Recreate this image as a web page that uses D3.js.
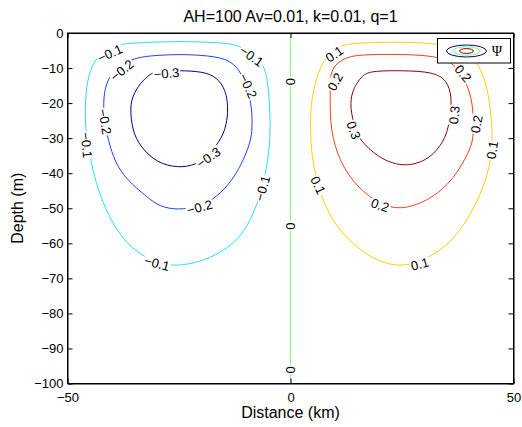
<!DOCTYPE html>
<html><head><meta charset="utf-8">
<script src="https://cdn.jsdelivr.net/npm/d3@7"></script>
<style>
body{margin:0;background:#fff;}
text{font-family:"Liberation Sans",Arial,Helvetica,sans-serif;fill:#000;}
</style>
</head><body>
<svg id="chart" width="522" height="427"></svg>
<script>
// ---------- DATA ----------
const titleText = "AH=100 Av=0.01, k=0.01, q=1";
const xLabelText = "Distance (km)";
const yLabelText = "Depth (m)";
const xTicks = [-50, 0, 50];
const yTicks = [0, -10, -20, -30, -40, -50, -60, -70, -80, -90, -100];
const levels = [-0.3, -0.2, -0.1, 0, 0.1, 0.2, 0.3];

// contour lines [distance km, depth m]
const psiNeg01 = [[-38.9,-3.1],[-31.5,-2.6],[-24.8,-2.4],[-18.0,-2.6],[-12.2,-3.1],[-9.1,-5.4],[-6.4,-8.3],[-5.3,-12.0],[-4.8,-18.3],[-4.4,-27.7],[-5.1,-37.1],[-6.4,-44.8],[-8.0,-50.5],[-9.9,-55.6],[-12.4,-59.6],[-15.8,-62.8],[-20.3,-65.3],[-25.2,-66.5],[-29.3,-65.9],[-33.7,-63.3],[-37.4,-59.1],[-40.3,-53.4],[-42.6,-46.8],[-44.4,-39.1],[-45.6,-30.5],[-46.1,-24.8],[-45.9,-16.3],[-45.0,-10.6],[-43.4,-7.1],[-41.6,-4.9]];
const psiNeg02 = [[-36.4,-8.0],[-33.7,-6.8],[-29.3,-6.3],[-24.8,-6.1],[-20.3,-6.3],[-14.2,-7.1],[-11.3,-10.6],[-9.8,-15.4],[-8.6,-21.1],[-8.6,-27.7],[-8.9,-30.5],[-10.2,-35.4],[-12.9,-41.9],[-16.5,-46.8],[-20.3,-49.6],[-25.2,-50.5],[-29.3,-49.6],[-32.2,-46.8],[-36.7,-41.9],[-39.3,-37.1],[-40.9,-30.5],[-41.8,-24.8],[-42.0,-18.3],[-41.1,-13.4],[-39.3,-10.6],[-38.2,-9.1]];
const psiNeg03 = [[-29.9,-10.8],[-24.8,-10.7],[-19.6,-11.0],[-16.5,-12.6],[-14.5,-16.3],[-14.0,-21.1],[-14.2,-24.8],[-15.1,-29.7],[-18.7,-35.4],[-21.4,-37.7],[-25.2,-38.5],[-29.9,-37.1],[-33.7,-32.5],[-35.5,-27.7],[-36.0,-21.1],[-35.3,-17.7],[-33.7,-14.3],[-31.5,-11.7]];
const psiZero = [[0,0],[0,-100]];
const psiPos01 = [[6.6,-9.6],[8.2,-6.8],[10.2,-4.0],[13.3,-3.0],[20.1,-2.6],[26.8,-2.6],[33.5,-3.1],[38.7,-4.9],[42.5,-8.6],[44.7,-18.3],[45.4,-30.5],[44.9,-36.4],[43.4,-43.9],[39.8,-53.4],[35.1,-61.1],[29.0,-65.3],[25.2,-66.5],[21.2,-65.9],[16.3,-62.8],[10.6,-56.2],[7.4,-48.5],[5.9,-42.4],[4.8,-35.4],[4.4,-27.7],[4.6,-18.3]];
const psiPos02 = [[8.9,-11.4],[10.0,-9.1],[12.2,-7.1],[14.9,-6.3],[20.1,-6.1],[24.6,-6.1],[29.0,-6.3],[35.1,-7.1],[38.5,-11.4],[40.7,-18.3],[41.1,-25.7],[40.9,-30.5],[40.2,-33.5],[36.6,-41.9],[31.3,-47.6],[25.2,-50.5],[20.1,-49.1],[14.9,-43.9],[11.1,-37.1],[8.9,-27.7],[8.9,-18.3]];
const psiPos03 = [[17.8,-10.8],[25.2,-10.7],[31.9,-11.1],[35.1,-13.4],[36.2,-18.3],[35.8,-23.4],[35.1,-29.7],[31.3,-36.2],[25.2,-38.5],[19.4,-35.4],[15.6,-30.5],[14.5,-27.7],[13.3,-21.1],[13.8,-16.8],[14.9,-14.3],[16.0,-12.3]];

// contour label anchors: [distance, depth, level, angle]
const contourLabels = [
  [-40.5,-5.8,-0.1,-25],[-8.7,-6.6,-0.1,35],[-37.8,-10.6,-0.2,-40],[-9.5,-15.1,-0.2,65],
  [-27.8,-11.5,-0.3,-5],[-41.6,-25.3,-0.2,80],[-45.7,-32.0,-0.1,85],[-18.4,-35.5,-0.3,-35],
  [-6.3,-44.3,-0.1,-75],[-20.4,-49.7,-0.2,-15],[-29.9,-65.7,-0.1,15],
  [0,-13.9,0,-90],[0,-55.1,0,-90],[0,-96.1,0,-90],
  [9.8,-6.0,0.1,-35],[10.0,-13.9,0.2,-60],[38.7,-11.5,0.2,50],[36.7,-23.4,0.3,-85],
  [14.2,-27.7,0.3,70],[41.7,-26.0,0.2,-80],[45.2,-33.4,0.1,-80],[6.2,-43.4,0.1,65],
  [20.1,-49.1,0.2,20],[29.0,-65.9,0.1,-15]
];

// ---------- STYLE / LAYOUT ----------
const levelColor = {"-0.3":"#00008f","-0.2":"#1f3fff","-0.1":"#22ddff","0":"#80ff80","0.1":"#ffcc00","0.2":"#ff3a10","0.3":"#8f0000"};
const contours = [
  {level:-0.1, pts:psiNeg01, closed:true},{level:-0.2, pts:psiNeg02, closed:true},{level:-0.3, pts:psiNeg03, closed:true},
  {level:0, pts:psiZero, closed:false},
  {level:0.1, pts:psiPos01, closed:true},{level:0.2, pts:psiPos02, closed:true},{level:0.3, pts:psiPos03, closed:true}
];

const svg = d3.select("#chart");
const L=67.5, R=513.5, T=33, B=383.5;
const x = d3.scaleLinear().domain([-50,50]).range([L,R]);
const y = d3.scaleLinear().domain([-100,0]).range([B,T]);
const fmtLevel = v => v===0 ? "0" : d3.format(".1f")(v);

svg.append("rect").attr("width",522).attr("height",427).attr("fill","#fff");

svg.append("defs").append("clipPath").attr("id","clip")
  .append("rect").attr("x",L).attr("y",T).attr("width",R-L).attr("height",B-T);

const plot = svg.append("g").attr("clip-path","url(#clip)");
const lineClosed = d3.line().x(d=>x(d[0])).y(d=>y(d[1])).curve(d3.curveBasisClosed);
const lineOpen = d3.line().x(d=>x(d[0])).y(d=>y(d[1]));

plot.selectAll("path.c").data(contours).join("path")
  .attr("class","c")
  .attr("d", c => c.closed ? lineClosed(c.pts) : lineOpen(c.pts))
  .attr("fill","none")
  .attr("stroke", c => levelColor[String(c.level)])
  .attr("stroke-width",1);

// labels with gaps
const lab = plot.selectAll("g.lab").data(contourLabels).join("g")
  .attr("class","lab")
  .attr("transform", d => `translate(${x(d[0])},${y(d[1])}) rotate(${d[3]})`);
lab.append("text")
  .attr("text-anchor","middle").attr("dy","0.36em")
  .style("font-size","13px")
  .text(d => fmtLevel(d[2]));
lab.each(function(){
  const g = d3.select(this);
  const bb = g.select("text").node().getBBox();
  g.insert("rect","text").attr("x",bb.x-1).attr("y",bb.y+1.5).attr("width",bb.width+2).attr("height",bb.height-3).attr("fill","#fff");
});

// axes (inward ticks)
const tickLen = 5;
const ax = svg.append("g");
const gB = ax.append("g").attr("transform",`translate(0,${B})`)
  .call(d3.axisBottom(x).tickValues(xTicks).tickSizeInner(-tickLen).tickSizeOuter(0).tickPadding(9));
const gT = ax.append("g").attr("transform",`translate(0,${T})`)
  .call(d3.axisTop(x).tickValues(xTicks).tickSizeInner(-tickLen).tickSizeOuter(0).tickFormat(""));
const gLft = ax.append("g").attr("transform",`translate(${L},0)`)
  .call(d3.axisLeft(y).tickValues(yTicks).tickSizeInner(-tickLen).tickSizeOuter(0).tickPadding(4));
const gRgt = ax.append("g").attr("transform",`translate(${R},0)`)
  .call(d3.axisRight(y).tickValues(yTicks).tickSizeInner(-tickLen).tickSizeOuter(0).tickFormat(""));
ax.selectAll(".domain").attr("stroke","#000").attr("stroke-width",1);
ax.selectAll(".tick line").attr("stroke","#000");
ax.selectAll(".tick text").style("font-family","'Liberation Sans',Arial,sans-serif").style("font-size","13px").attr("fill","#000");

svg.append("rect").attr("x",L).attr("y",T).attr("width",R-L).attr("height",B-T)
  .attr("fill","none").attr("stroke","#000").attr("stroke-width",1);

// titles
svg.append("text").attr("x",(L+R)/2).attr("y",21.5).attr("text-anchor","middle")
  .style("font-size","16px").text(titleText);
svg.append("text").attr("x",(L+R)/2).attr("y",418).attr("text-anchor","middle")
  .style("font-size","16px").text(xLabelText);
svg.append("text").attr("transform",`translate(23,${(T+B)/2}) rotate(-90)`).attr("text-anchor","middle")
  .style("font-size","16px").text(yLabelText);

// legend
const lg = svg.append("g");
lg.append("rect").attr("x",437.5).attr("y",38.5).attr("width",73).attr("height",24.5)
  .attr("fill","#fff").attr("stroke","#000").attr("stroke-width",1);
const legendRings = [{level:-0.3, rx:20, ry:6},{level:0, rx:13.5, ry:4.2},{level:0.3, rx:7, ry:2.4}];
lg.selectAll("ellipse").data(legendRings).join("ellipse")
  .attr("cx",466.5).attr("cy",51).attr("rx",d=>d.rx).attr("ry",d=>d.ry)
  .attr("fill","none").attr("stroke",d=>levelColor[String(d.level)]).attr("stroke-width",1);
lg.append("text").attr("x",497).attr("y",56).attr("text-anchor","middle")
  .style("font-family","'Liberation Serif','DejaVu Serif',serif").style("font-size","14px").text("Ψ");
</script>
</body></html>
